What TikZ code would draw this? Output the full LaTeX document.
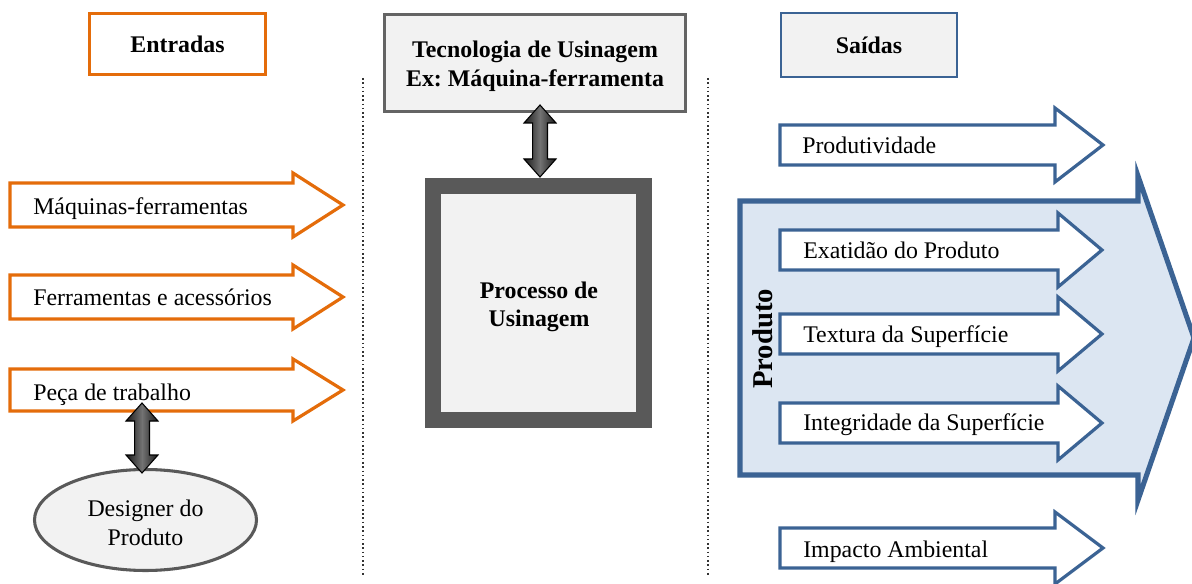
\documentclass[tikz,border=0pt]{standalone}
\usepackage{fontspec}
\setmainfont{Liberation Serif}
\usetikzlibrary{calc,shapes.geometric}
\definecolor{orn}{HTML}{E46C0A}
\definecolor{blu}{HTML}{3B6394}
\definecolor{bfill}{HTML}{DCE6F2}
\definecolor{dgray}{HTML}{595959}
\definecolor{mgray}{HTML}{646464}
\definecolor{lgray}{HTML}{F2F2F2}
\frenchspacing
\newcommand\blockarr[7]{%
  \draw[#1] (#2,#5-#6) -- (#3,#5-#6) -- (#3,#5-#7) -- (#4,#5) -- (#3,#5+#7) -- (#3,#5+#6) -- (#2,#5+#6) -- cycle;}
\newcommand\dblpath{(\x1,\y1) -- (\x1+12pt,\y1-13.5pt) -- (\x1+5.6pt,\y1-13.5pt) -- (\x1+5.6pt,\y2+13.5pt) -- (\x1+12pt,\y2+13.5pt) -- (\x1,\y2) -- (\x1-12pt,\y2+13.5pt) -- (\x1-5.6pt,\y2+13.5pt) -- (\x1-5.6pt,\y1-13.5pt) -- (\x1-12pt,\y1-13.5pt) -- cycle}
\newcommand\dblarr[2]{%
  \fill[black!45, shift={(3,3)}] let \p1=(#1), \p2=(#2) in \dblpath;
  \shadedraw[draw=black, line width=0.8pt, left color=black!90, right color=black!90, middle color=black!55] let \p1=(#1), \p2=(#2) in \dblpath;}
\begin{document}
\begin{tikzpicture}[x=0.75pt,y=-0.75pt,
  every node/.style={font=\fontsize{17.9}{22}\selectfont, inner sep=0pt},
  head/.style={font=\fontsize{17.9}{22}\selectfont\bfseries, align=center},
  oarr/.style={draw=orn, line width=2.4pt, fill=white, line join=miter},
  barr/.style={draw=blu, line width=2.4pt, fill=white, line join=miter},
  bigarr/.style={draw=blu, line width=3.8pt, fill=bfill, line join=miter},
  lbl/.style={anchor=base west},
  dots/.style={dotted, line width=1.2pt, black!80}]
\useasboundingbox (0,0) rectangle (1192,584);
% header boxes
\node[head, draw=orn, line width=2.3pt, fill=white, minimum width={176*0.75pt}, minimum height={61*0.75pt}] (ent) at (177.5,44) {Entradas};
\node[head, draw=blu, line width=1.8pt, fill=lgray, minimum width={176*0.75pt}, minimum height={64*0.75pt}] (sai) at (869,45) {Saídas};
\node[draw=mgray, line width=2.3pt, fill=lgray, minimum width={301*0.75pt}, minimum height={97*0.75pt}] (tech) at (535,63) {};
\node[head] (techtxt) at (535,66) {Tecnologia de Usinagem\\Ex: Máquina-ferramenta};
\node[draw=dgray, line width=12pt, fill=lgray, minimum width={211*0.75pt}, minimum height={234*0.75pt}] (proc) at (538.5,303) {};
\node[head, font=\fontsize{17.9}{21}\selectfont\bfseries] (proctxt) at (539,307) {Processo de\\Usinagem};
\node[draw=dgray, line width=2.3pt, fill=lgray, ellipse, minimum width={222*0.75pt}, minimum height={101*0.75pt}] (des) at (145.5,520) {};
\node[align=center] (destxt) at (145.5,523) {Designer do\\Produto};
% dotted separators
\coordinate (d1a) at (363,78); \coordinate (d1b) at (363,575);
\coordinate (d2a) at (708,78); \coordinate (d2b) at (708,575);
\draw[dots] (d1a) -- (d1b);
\draw[dots] (d2a) -- (d2b);
% left input arrows
\blockarr{oarr}{10}{293}{343}{205}{22}{32}
\blockarr{oarr}{10}{293}{343}{297}{22}{32}
\blockarr{oarr}{10}{293}{343}{390}{21}{31}
\node[lbl] (m1) at (33,215) {Máquinas-ferramentas};
\node[lbl] (m2) at (33,306) {Ferramentas e acessórios};
\node[lbl] (m3) at (33,401) {Peça de trabalho};
% right output arrows
\blockarr{barr}{780}{1055}{1103}{145}{20}{37}
\node[lbl] (o1) at (802,154) {Produtividade};
\blockarr{bigarr}{740}{1138}{1194}{338}{137}{162}
\blockarr{barr}{780}{1058}{1102}{250}{20}{37}
\blockarr{barr}{780}{1058}{1102}{334}{20}{37}
\blockarr{barr}{780}{1058}{1102}{423}{20}{37}
\node[lbl] (o2) at (803,259) {Exatidão do Produto};
\node[lbl] (o3) at (803,343) {Textura da Superfície};
\node[lbl] (o4) at (803,431) {Integridade da Superfície};
\node[rotate=90, font=\fontsize{21.5}{24}\selectfont\bfseries] (prod) at (763,339) {Produto};
\blockarr{barr}{780}{1055}{1103}{548}{20}{36}
\node[lbl] (o5) at (803,557) {Impacto Ambiental};
% double arrows
\coordinate (a1) at (540,105); \coordinate (a2) at (540,177);
\dblarr{a1}{a2}
\coordinate (b1) at (142,403); \coordinate (b2) at (142,473);
\dblarr{b1}{b2}
\end{tikzpicture}
\end{document}
